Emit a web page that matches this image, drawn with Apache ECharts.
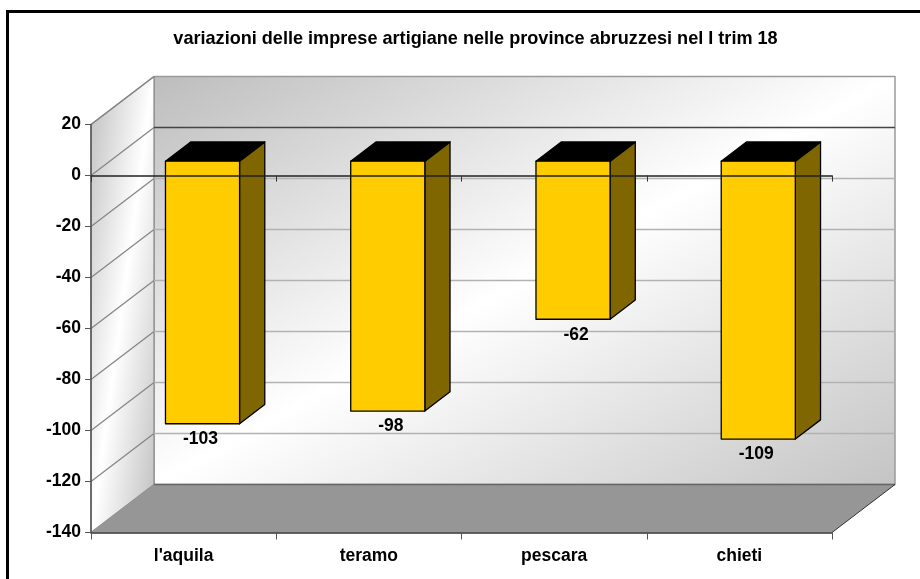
<!DOCTYPE html>
<html>
<head>
<meta charset="utf-8">
<style>
html,body{margin:0;padding:0;background:#fff;}
#main{width:920px;height:579px;}
</style>
</head>
<body>
<div id="main"></div>
<script src="https://cdn.jsdelivr.net/npm/echarts@6/dist/echarts.min.js"></script>
<script>
var categories = ["l'aquila", "teramo", "pescara", "chieti"];
var values = [-103, -98, -62, -109];
var yTicks = [20, 0, -20, -40, -60, -80, -100, -120, -140];
var titleText = 'variazioni delle imprese artigiane nelle province abruzzesi nel I trim 18';

// depth of the fake 3d box
var depthX = 63, depthY = 48;
var fontName = '"Liberation Sans", Arial, sans-serif';

// three stop gradient, the anti diagonal of the box stays white
function wallGradient(w, h, c1, c2) {
    var k = h * h / (w * w + h * h);
    var m = w * w / (w * w + h * h);
    return new echarts.graphic.LinearGradient(0.5 - k, 0.5 - m, 0.5 + k, 0.5 + m, [
        {offset: 0, color: c1},
        {offset: 0.5, color: '#ffffff'},
        {offset: 1, color: c2}
    ]);
}

function poly(points, fill, stroke, lw) {
    return {
        type: 'polygon',
        shape: {points: points},
        style: {fill: fill, stroke: stroke || null, lineWidth: lw || 0, lineJoin: 'round'}
    };
}

function line(x1, y1, x2, y2, color, lw) {
    return {
        type: 'line',
        shape: {x1: x1, y1: y1, x2: x2, y2: y2},
        style: {stroke: color, lineWidth: lw}
    };
}

function renderWalls(params, api) {
    var sys = params.coordSys;
    var left = sys.x, right = sys.x + sys.width, top = sys.y, bottom = sys.y + sys.height;
    var y = api.coord([0, api.value(0)])[1];
    var v = api.value(0);
    var children = [];
    if (params.dataIndex === 0) {
        children.push(poly([[left + depthX, top - depthY], [right + depthX, top - depthY], [right + depthX, bottom - depthY], [left + depthX, bottom - depthY]],
            wallGradient(sys.width, sys.height, '#bdbdbd', '#c4c4c4'), '#9a9a9a', 1.5));
        children.push(poly([[left, top], [left + depthX, top - depthY], [left + depthX, bottom - depthY], [left, bottom]],
            wallGradient(depthX, sys.height + depthY, '#bdbdbd', '#bdbdbd'), '#8a8a8a', 1.2));
        children.push(poly([[left, bottom], [right, bottom], [right + depthX, bottom - depthY], [left + depthX, bottom - depthY]],
            '#969696', null));
        children.push(line(left + depthX, bottom - depthY, right + depthX, bottom - depthY, '#666666', 1.5));
        children.push(line(right, bottom, right + depthX, bottom - depthY, '#333333', 1));
    }
    // line on the side wall and on the back wall
    if (v !== -140) {
        children.push(line(left, y, left + depthX, y - depthY, '#858585', 1.2));
    }
    if (v !== 20 && v !== -140) {
        children.push(line(left + depthX, y - depthY, right + depthX, y - depthY, v === 0 ? '#444444' : '#b2b2b2', 1.5));
    }
    return {type: 'group', children: children};
}

function renderBars(params, api) {
    var band = api.size([1, 0])[0];
    var center = api.coord([api.value(0), 0])[0];
    var y0 = api.coord([0, 0])[1];
    var y1 = api.coord([0, api.value(1)])[1];
    // bars sit 30%..70% into the depth of the box
    var w = band * 0.4;
    var x0 = center + depthX * 0.3 - w / 2;
    var x1 = x0 + w;
    var dx = depthX * 0.4, dy = depthY * 0.4;
    var up = depthY * 0.3;
    var t = y0 - up, b = y1 - up;
    return {
        type: 'group',
        children: [
            poly([[x1, t], [x1 + dx, t - dy], [x1 + dx, b - dy], [x1, b]], '#806600', '#000000', 1.3),
            poly([[x0, t], [x0 + dx, t - dy], [x1 + dx, t - dy], [x1, t]], '#000000', '#000000', 1.3),
            poly([[x0, t], [x1, t], [x1, b], [x0, b]], '#ffcc00', '#000000', 1.3),
            {
                type: 'text',
                style: {
                    text: String(api.value(1)),
                    x: (x0 + x1) / 2 + (api.value(1) < -99 ? -2 : 3),
                    y: b + 15.5,
                    align: 'center',
                    verticalAlign: 'middle',
                    fill: '#000',
                    font: 'bold 17.5px ' + fontName
                }
            }
        ]
    };
}

var barData = [];
for (var i = 0; i < categories.length; i++) {
    barData.push([i, values[i]]);
}

var option = {
    backgroundColor: '#fff',
    animation: false,
    title: {
        text: titleText,
        left: 470.5,
        top: 25,
        textAlign: 'center',
        textStyle: {color: '#000', fontFamily: fontName, fontWeight: 'bold', fontSize: 18.1}
    },
    graphic: [{
        type: 'rect',
        shape: {x: 7.5, y: 11.5, width: 1000, height: 700},
        style: {fill: 'transparent', stroke: '#000', lineWidth: 3},
        silent: true
    }],
    grid: {left: 91, right: 88, top: 124.6, bottom: 46.5},
    xAxis: [{
        type: 'category',
        data: categories,
        position: 'bottom',
        z: 6,
        axisLine: {onZero: false, lineStyle: {color: '#333', width: 1.5}},
        axisTick: {show: true, alignWithLabel: false, length: 7, lineStyle: {color: '#555', width: 1}},
        axisLabel: {color: '#000', fontFamily: fontName, fontWeight: 'bold', fontSize: 17.5, margin: 15}
    }, {
        type: 'category',
        data: categories,
        position: 'bottom',
        z: 6,
        axisLine: {onZero: true, lineStyle: {color: '#222', width: 1.5}},
        axisTick: {show: true, length: 6, lineStyle: {color: '#333', width: 1}},
        axisLabel: {show: false}
    }],
    yAxis: {
        type: 'value',
        min: -140,
        max: 20,
        interval: 20,
        z: 6,
        splitLine: {show: false},
        axisLine: {show: true, onZero: false, lineStyle: {color: '#555', width: 1.5}},
        axisTick: {show: true, length: 6, lineStyle: {color: '#555', width: 1}},
        axisLabel: {color: '#000', fontFamily: fontName, fontWeight: 'bold', fontSize: 17.5, margin: 10, padding: [2, 0, 0, 0]}
    },
    series: [{
        type: 'custom',
        name: 'walls',
        z: 1,
        silent: true,
        renderItem: renderWalls,
        encode: {y: 0},
        data: yTicks.map(function (v) { return [v]; })
    }, {
        type: 'custom',
        name: 'variazioni',
        z: 3,
        renderItem: renderBars,
        encode: {x: 0, y: 1},
        data: barData
    }]
};

var chart = echarts.init(document.getElementById('main'));
chart.setOption(option);
</script>
</body>
</html>
